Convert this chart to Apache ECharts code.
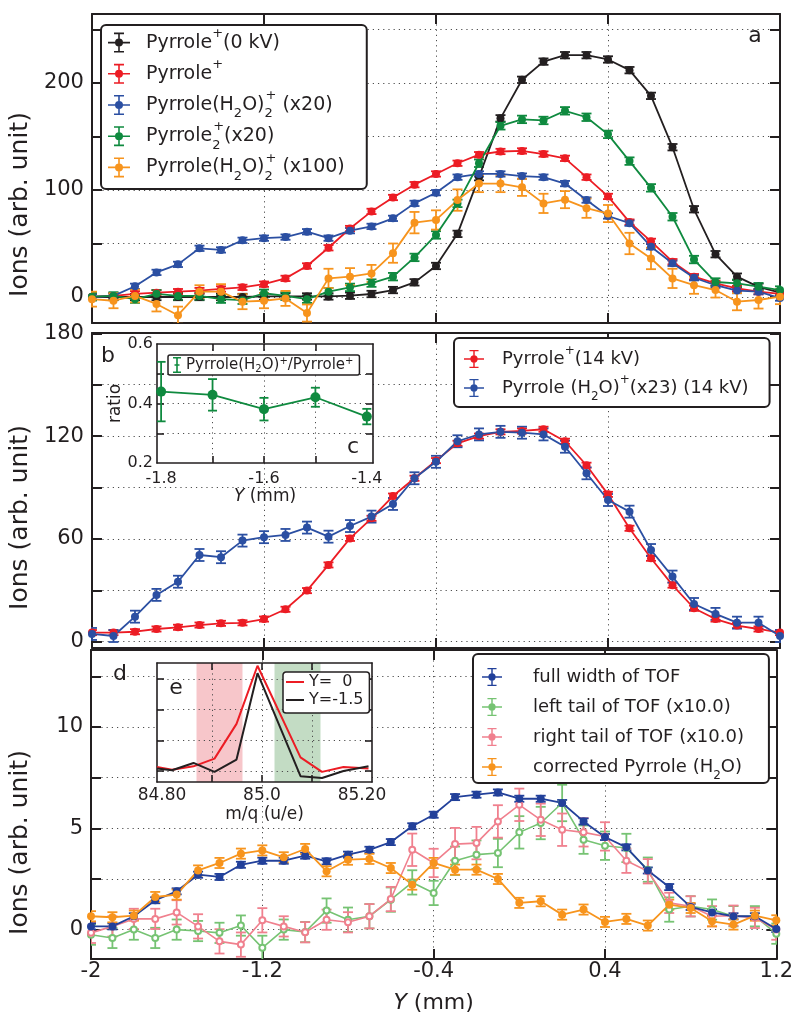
<!DOCTYPE html>
<html><head><meta charset="utf-8">
<script src="https://cdn.jsdelivr.net/npm/echarts@6/dist/echarts.min.js"></script>
<style>html,body{margin:0;padding:0;background:#fff}#c{width:796px;height:1029px}</style>
</head><body><div id="c"></div>
<script>
// ---------- data ----------
const Y_MM = [-2.0,-1.9,-1.8,-1.7,-1.6,-1.5,-1.4,-1.3,-1.2,-1.1,-1.0,-0.9,-0.8,-0.7,-0.6,-0.5,-0.4,-0.3,-0.2,-0.1,0.0,0.1,0.2,0.3,0.4,0.5,0.6,0.7,0.8,0.9,1.0,1.1,1.2];

// panel a
const A_PYR_0KV   = [0,0,0,0,0,0,0,0,0.5,0.5,0.5,0.5,1.2,2.8,6.5,13.7,29,59,112,167,203,220,226,226,222,212,188,140,82,40,19,9.5,4];
const A_PYR       = [0.3,1,3,4,5,6,7.5,9,12,17.4,29,46,64,80,93,105,115,125,133,136,136.5,133.6,129.6,112,94,70,52,33,19,12.8,8,5,3];
const A_PYRW2_X20 = [0,1,10,23,30.5,45.5,44,53,55,56,61,55,62,66,73.5,87.5,97.5,112,115,115,113,112,106,90.6,75.7,69,47,31.5,18,11,6,5,-1];
const A_PYR2_X20  = [0.3,1,-2,3,1,1,-2,-3,3.5,1,-2,5,9,13,19,37,58,87.5,125,160,166,165,174,168,152,127,102,75,35,14,12.8,9.6,6.5];
const A_PYRW2_X100= [-2,-3.5,1,-6.5,-17,5,5,-4.4,-3.5,-1.3,-15,17.4,19,22,41,69.5,72,90.6,106,106,102.5,87.5,91,83,78,50,36,17.4,11,6.5,-4.4,-2.8,0.3];
const A_ERR_0KV = 3, A_ERR_PYR = 2.5, A_ERR_PYRW2 = 2.5, A_ERR_PYR2 = 3.5;
const A_ERR_X100 = [7,7,6,7,8,6,7,7,7,7,8,9,8,8,9,10,9,10,8,8,8,9,8,9,8,10,10,9,8,7,8,8,7];

// panel b
const B_PYR_14KV  = [5.3,5.3,5.8,7.4,8.4,9.7,10.7,11,13.2,18.9,29.8,44.8,60.3,72,85,95.4,105.7,115.8,120,122.5,123,124,117,103,86,66.2,48.7,33,19.5,13.2,9.4,7.4,5.3];
const B_PYRW_X23  = [4.5,3.3,14.6,27.3,35,50.6,49.3,59,61,62.3,66.6,61.3,67.5,73,80.4,95.4,105,117,121,122.5,122,121,113.8,98.3,82.7,75.9,53.5,38,22,16.2,11.1,11.1,3.3];
const B_ERR_PYR = 1.5, B_ERR_PYRW = 3.5;

// inset c (ratio)
const C_Y     = [-1.8,-1.7,-1.6,-1.5,-1.4];
const C_RATIO = [0.44,0.429,0.381,0.421,0.356];
const C_ERR   = [0.10,0.053,0.038,0.032,0.026];

// panel d
const D_FULL   = [0.16,0.16,0.66,1.45,1.89,2.71,2.6,3.2,3.4,3.4,3.65,3.37,3.7,3.94,4.32,5.1,5.67,6.54,6.66,6.77,6.46,6.46,6.25,5.34,4.57,4.06,2.92,2.1,1.12,0.85,0.66,0.66,0.03];
const D_LEFT   = [-0.25,-0.41,0,-0.41,0,-0.07,-0.16,0.2,-0.9,0,-0.12,0.94,0.49,0.66,1.48,2.33,1.81,3.4,3.7,3.78,4.8,5.26,6.25,4.44,4.14,4.03,2.96,0.99,1.15,0.99,0.66,0.66,-0.2];
const D_RIGHT  = [-0.16,0.16,0.53,0.53,0.85,0.16,-0.58,-0.74,0.46,0.16,-0.13,0.49,0.36,0.66,1.51,3.94,3.29,4.22,4.27,5.34,6.16,5.42,4.93,4.8,4.6,3.4,2.88,1.32,1.15,0.66,0.69,0.58,0];
const D_CORR   = [0.66,0.61,0.69,1.61,1.73,2.92,3.29,3.75,3.91,3.57,3.98,2.88,3.45,3.49,3.04,2.22,3.29,2.96,2.96,2.5,1.32,1.4,0.74,0.99,0.38,0.53,0.2,1.23,1.07,0.41,0.25,0.69,0.46];
const D_ERR_FULL = 0.15, D_ERR_CORR = 0.25;
const D_ERR_LEFT  = [0.5,0.5,0.5,0.5,0.5,0.5,0.5,0.5,0.6,0.5,0.5,0.6,0.6,0.6,0.6,0.6,0.6,0.7,0.7,0.7,0.8,0.8,0.9,0.7,0.7,0.7,0.6,0.6,0.5,0.5,0.5,0.5,0.5];
const D_ERR_RIGHT = [0.5,0.5,0.5,0.5,0.6,0.6,0.6,0.6,0.6,0.5,0.5,0.5,0.5,0.6,0.6,0.8,0.7,0.8,0.8,0.8,0.8,0.8,0.8,0.7,0.7,0.6,0.6,0.5,0.5,0.5,0.5,0.5,0.5];

// inset e (TOF spectra)
const E_MQ     = [84.79,84.82,84.863,84.905,84.949,84.991,85.077,85.12,85.163,85.213];
const E_Y0     = [0.14,0.05,0.16,0.41,1.54,3.43,0.45,-0.02,0.14,0.09];
const E_Y15    = [0.09,0.03,0.27,-0.02,0.38,3.19,-0.16,-0.22,0.01,0.16];
const E_LEFT_BAND  = [84.869, 84.961];
const E_RIGHT_BAND = [85.025, 85.117];

// ticks
const X_TICKS = [-2,-1.2,-0.4,0.4,1.2];
const X_TICK_LABELS = ['-2','-1.2','-0.4','0.4','1.2'];
const A_TICKS = [0,50,100,150,200,250], A_LABELS = [0,100,200];
const B_TICKS = [0,30,60,90,120,150,180], B_LABELS = [0,60,120,180];
const D_TICKS = [0,2.5,5,7.5,10,12.5], D_LABELS = [0,5,10];
const C_XTICKS = [-1.7,-1.6,-1.5], C_XLABELS = [-1.8,-1.6,-1.4];
const C_YTICKS = [0.3,0.4,0.5], C_YLABELS = [0.2,0.4,0.6];
const E_XTICKS = [84.9,85.0,85.1], E_XLABELS = [84.8,85.0,85.2], E_XLABEL_TEXT = ['84.80','85.0','85.20'];
const E_YTICKS = [0,1,2,3];

// ---------- style ----------
const FONT = 'DejaVu Sans';
const INK = '#231f20';
const GRIDLINE = {show:true, lineStyle:{color:'#4d4d4d', width:1, type:[1.2,4]}};
const COL = {black:'#231f20', red:'#ec1c24', blue:'#2b4fa2', green:'#0f8a3f', orange:'#f7941d',
             dblue:'#22409a', lgreen:'#76c373', pink:'#f0808e'};

function lookup(vals, texts){ return v => { for (let i=0;i<vals.length;i++) if (Math.abs(vals[i]-v)<1e-6) return texts[i]; return ''; }; }

function xAx(gi, min, max, ticks, pos, label, extra) {
  return Object.assign({
    type:'value', gridIndex:gi, min:min, max:max, position:pos,
    axisLine:{show:true, onZero:false, lineStyle:{color:INK, width:2}},
    axisTick:{show:true, inside:true, length:10, customValues:ticks, lineStyle:{color:INK, width:2}},
    axisLabel: label ? Object.assign({show:true, color:INK, fontFamily:FONT, showMinLabel:true, showMaxLabel:true}, label) : {show:false},
    splitLine: pos==='bottom' ? GRIDLINE : {show:false}
  }, extra||{});
}
function yAx(gi, min, max, ticks, pos, label, extra) {
  return Object.assign({
    type:'value', gridIndex:gi, min:min, max:max, position:pos,
    axisLine:{show:true, onZero:false, lineStyle:{color:INK, width:2}},
    axisTick:{show:true, inside:true, length:10, customValues:ticks, lineStyle:{color:INK, width:2}},
    axisLabel: label ? Object.assign({show:true, color:INK, fontFamily:FONT, showMinLabel:true, showMaxLabel:true}, label) : {show:false},
    splitLine: pos==='left' ? GRIDLINE : {show:false}
  }, extra||{});
}
const yName = (pad) => ({name:'Ions (arb. unit)', nameLocation:'middle', nameGap:58,
  nameTextStyle:{fontSize:25, fontFamily:FONT, color:INK, padding:[0,pad,0,0]}});

const insetTick = (t) => ({show:true, inside:true, length:7, customValues:t, lineStyle:{color:INK,width:1.6}});
const insetLine = {show:true, onZero:false, lineStyle:{color:INK,width:1.6}};

const xAxes = [
  xAx(0,-2,1.2,X_TICKS,'bottom',null),
  xAx(1,-2,1.2,X_TICKS,'bottom',null),
  xAx(2,-2,1.2,X_TICKS,'bottom',{customValues:X_TICKS, formatter:lookup(X_TICKS,X_TICK_LABELS), fontSize:21, margin:2},
      {name:'{i|Y} (mm)', nameLocation:'middle', nameGap:33,
       nameTextStyle:{fontSize:22, fontFamily:FONT, color:INK, rich:{i:{fontStyle:'italic', fontSize:22, fontFamily:FONT, color:INK}}}}),
  xAx(0,-2,1.2,X_TICKS,'top',null),
  xAx(1,-2,1.2,X_TICKS,'top',null),
  xAx(2,-2,1.2,X_TICKS,'top',null),
  // inset c
  xAx(3,-1.808,-1.388,C_XTICKS,'bottom',{customValues:C_XLABELS, fontSize:16, margin:8},
      {z:6, axisTick:insetTick(C_XTICKS), axisLine:insetLine,
       name:'{i|Y} (mm)', nameLocation:'middle', nameGap:20,
       nameTextStyle:{fontSize:17, fontFamily:FONT, color:INK, rich:{i:{fontStyle:'italic', fontSize:17, fontFamily:FONT, color:INK}}}}),
  xAx(3,-1.808,-1.388,C_XTICKS,'top',null,{z:6, axisTick:insetTick(C_XTICKS), axisLine:insetLine}),
  // inset e
  xAx(4,84.79,85.22,E_XTICKS,'bottom',{customValues:E_XLABELS, formatter:lookup(E_XLABELS,E_XLABEL_TEXT), fontSize:17, margin:5},
      {z:6, axisTick:insetTick(E_XTICKS), axisLine:insetLine,
       name:'m/q (u/e)', nameLocation:'middle', nameGap:24,
       nameTextStyle:{fontSize:17, fontFamily:FONT, color:INK}}),
  xAx(4,84.79,85.22,E_XTICKS,'top',null,{z:6, axisTick:insetTick(E_XTICKS), axisLine:insetLine})
];
const yAxes = [
  yAx(0,-24.3,264.5,A_TICKS,'left',{customValues:A_LABELS, fontSize:21, margin:8}, yName(72)),
  yAx(1,-3.7,180.2,B_TICKS,'left',{customValues:B_LABELS, fontSize:21, margin:8}, yName(54)),
  yAx(2,-1.45,13.8,D_TICKS,'left',{customValues:D_LABELS, fontSize:21, margin:8}, yName(76)),
  yAx(0,-24.3,264.5,A_TICKS,'right',null),
  yAx(1,-3.7,180.2,B_TICKS,'right',null),
  yAx(2,-1.45,13.8,D_TICKS,'right',null),
  yAx(3,0.2,0.6,C_YTICKS,'left',{customValues:C_YLABELS, formatter:v=>v.toFixed(1), fontSize:16, margin:4},
      {z:6, axisTick:insetTick(C_YTICKS), axisLine:insetLine,
       name:'ratio', nameLocation:'middle', nameGap:30, nameTextStyle:{fontSize:17, fontFamily:FONT, color:INK}}),
  yAx(3,0.2,0.6,C_YTICKS,'right',null,{z:6, axisTick:insetTick(C_YTICKS), axisLine:insetLine}),
  yAx(4,-0.35,3.52,E_YTICKS,'left',null,{z:6, axisTick:insetTick(E_YTICKS), axisLine:insetLine, splitLine:GRIDLINE}),
  yAx(4,-0.35,3.52,E_YTICKS,'right',null,{z:6, axisTick:insetTick(E_YTICKS), axisLine:insetLine})
];

// ---------- series helpers ----------
const series = [];
function addSeries(name, xi, yi, xs, ys, errs, color, o) {
  o = o || {};
  const e = xs.map((x,i)=>[x, ys[i], Array.isArray(errs)?errs[i]:errs]);
  const cap = o.cap || 10, lw = o.elw || 1.8;
  series.push({
    type:'custom', name:'err '+name, xAxisIndex:xi, yAxisIndex:yi, silent:true, clip:true, z:o.z||2,
    encode:{x:0, y:1}, data:e,
    renderItem:(params, api) => {
      const x = api.value(0), y = api.value(1), d = api.value(2);
      const t = api.coord([x, y+d]), b = api.coord([x, y-d]), h = cap/2;
      const st = {stroke:color, lineWidth:lw};
      return {type:'group', children:[
        {type:'line', shape:{x1:t[0],y1:t[1],x2:b[0],y2:b[1]}, style:st},
        {type:'line', shape:{x1:t[0]-h,y1:t[1],x2:t[0]+h,y2:t[1]}, style:st},
        {type:'line', shape:{x1:b[0]-h,y1:b[1],x2:b[0]+h,y2:b[1]}, style:st}
      ]};
    }
  });
  series.push({
    type:'line', name:name, xAxisIndex:xi, yAxisIndex:yi, z:o.z||2, clip:true,
    data: xs.map((x,i)=>[x, ys[i]]),
    symbol: o.symbol || 'circle', symbolSize: o.size || 8, showSymbol:true,
    lineStyle:{color:color, width:o.lw||1.8}, itemStyle:{color:color, borderWidth:0}
  });
}

// panel a
addSeries('Pyrrole+ (0 kV)', 0,0, Y_MM, A_PYR_0KV, A_ERR_0KV, COL.black);
addSeries('Pyrrole+', 0,0, Y_MM, A_PYR, A_ERR_PYR, COL.red);
addSeries('Pyrrole(H2O)2+ (x20)', 0,0, Y_MM, A_PYRW2_X20, A_ERR_PYRW2, COL.blue);
addSeries('Pyrrole2+ (x20)', 0,0, Y_MM, A_PYR2_X20, A_ERR_PYR2, COL.green);
addSeries('Pyrrole(H2O)2+ (x100)', 0,0, Y_MM, A_PYRW2_X100, A_ERR_X100, COL.orange);
// panel b
addSeries('Pyrrole+ (14 kV)', 1,1, Y_MM, B_PYR_14KV, B_ERR_PYR, COL.red);
addSeries('Pyrrole(H2O)+ (x23) (14 kV)', 1,1, Y_MM, B_PYRW_X23, B_ERR_PYRW, COL.blue);
// inset c
addSeries('Pyrrole(H2O)+/Pyrrole+', 6,6, C_Y, C_RATIO, C_ERR, COL.green, {z:7, size:10, cap:9});
// panel d
addSeries('left tail of TOF (x10.0)', 2,2, Y_MM, D_LEFT, D_ERR_LEFT, COL.lgreen, {symbol:'emptyCircle', size:6, lw:1.6});
addSeries('right tail of TOF (x10.0)', 2,2, Y_MM, D_RIGHT, D_ERR_RIGHT, COL.pink, {symbol:'emptyCircle', size:6, lw:1.6});
addSeries('full width of TOF', 2,2, Y_MM, D_FULL, D_ERR_FULL, COL.dblue);
addSeries('corrected Pyrrole (H2O)', 2,2, Y_MM, D_CORR, D_ERR_CORR, COL.orange);
// inset e
series.push({type:'line', name:'Y=  0', xAxisIndex:8, yAxisIndex:8, z:7, symbol:'none', clip:true,
  data:E_MQ.map((x,i)=>[x,E_Y0[i]]), lineStyle:{color:COL.red, width:2}, itemStyle:{color:COL.red},
  markArea:{silent:true, z:5, itemStyle:{color:'rgba(235,120,128,0.42)'},
    data:[[{xAxis:E_LEFT_BAND[0]},{xAxis:E_LEFT_BAND[1]}],
          [{xAxis:E_RIGHT_BAND[0], itemStyle:{color:'rgba(112,172,114,0.42)'}},{xAxis:E_RIGHT_BAND[1]}]]}});
series.push({type:'line', name:'Y=-1.5', xAxisIndex:8, yAxisIndex:8, z:7, symbol:'none', clip:true,
  data:E_MQ.map((x,i)=>[x,E_Y15[i]]), lineStyle:{color:COL.black, width:2}, itemStyle:{color:COL.black}});

// ---------- legends ----------
const EB_ICON = 'path://M0,9.2H22V10.8H0Z M10.2,0.8H11.8V19.2H10.2Z M6,0H16V1.6H6Z M6,18.4H16V20H6Z M11,6A4,4 0 1,1 11,14A4,4 0 1,1 11,6Z';
const SMALL_EB = 'path://M3.2,1H4.8V15H3.2Z M0,0H8V1.6H0Z M0,14.4H8V16H0Z M1.5,7.2H6.5V8.8H1.5Z';
const LINE_ICON = 'path://M0,0H18V2H0Z';
// rich styles; the invisible "sp" strut fixes each legend row's height and the gap before the text
function rich(fs, lh, ss, sp) {
  return {
    n:{fontSize:fs, lineHeight:lh, fontFamily:FONT, color:INK},
    sup:{fontSize:ss, lineHeight:ss, verticalAlign:'top', fontFamily:FONT, color:INK},
    sub:{fontSize:ss, lineHeight:ss, verticalAlign:'bottom', fontFamily:FONT, color:INK},
    subs:{fontSize:ss, lineHeight:ss, verticalAlign:'bottom', fontFamily:FONT, color:INK, width:1},
    sp:{width:sp, height:lh, lineHeight:lh, fontSize:fs, backgroundColor:'rgba(255,255,255,0)'}
  };
}
const LABELS = {
  'Pyrrole+ (0 kV)':'{sp| }{n|Pyrrole}{sup|+}{n|(0 kV)}',
  'Pyrrole+':'{sp| }{n|Pyrrole}{sup|+}',
  'Pyrrole(H2O)2+ (x20)':'{sp| }{n|Pyrrole(H}{sub|2}{n|O)}{subs|2}{sup|+}{n| (x20)}',
  'Pyrrole2+ (x20)':'{sp| }{n|Pyrrole}{subs|2}{sup|+}{n|(x20)}',
  'Pyrrole(H2O)2+ (x100)':'{sp| }{n|Pyrrole(H}{sub|2}{n|O)}{subs|2}{sup|+}{n| (x100)}',
  'Pyrrole+ (14 kV)':'{sp| }{n|Pyrrole}{sup|+}{n|(14 kV)}',
  'Pyrrole(H2O)+ (x23) (14 kV)':'{sp| }{n|Pyrrole (H}{sub|2}{n|O)}{sup|+}{n|(x23) (14 kV)}',
  'Pyrrole(H2O)+/Pyrrole+':'{n|Pyrrole(H}{sub|2}{n|O)}{sup|+}{n|/Pyrrole}{sup|+}',
  'full width of TOF':'{sp| }{n|full width of TOF}',
  'left tail of TOF (x10.0)':'{sp| }{n|left tail of TOF (x10.0)}',
  'right tail of TOF (x10.0)':'{sp| }{n|right tail of TOF (x10.0)}',
  'corrected Pyrrole (H2O)':'{sp| }{n|corrected Pyrrole (H}{sub|2}{n|O)}',
  'Y=  0':'{n|Y=  0}',
  'Y=-1.5':'{n|Y=-1.5}'
};
const legendBase = {orient:'vertical', align:'left', selectedMode:false, backgroundColor:'#fff', symbolKeepAspect:true,
  borderColor:INK, borderWidth:2, borderRadius:5, itemStyle:{borderWidth:0}, formatter:n=>LABELS[n]};
const legends = [
  Object.assign({}, legendBase, {left:101, top:25, padding:[2,22,6,7], itemGap:0, itemWidth:22, itemHeight:31.2,
    textStyle:{fontSize:19, fontFamily:FONT, color:INK, rich:rich(19,31.2,13,11)},
    data:['Pyrrole+ (0 kV)','Pyrrole+','Pyrrole(H2O)2+ (x20)','Pyrrole2+ (x20)','Pyrrole(H2O)2+ (x100)'].map(n=>({name:n, icon:EB_ICON}))}),
  Object.assign({}, legendBase, {left:454, top:338, padding:[6.5,21,4.5,10], itemGap:0, itemWidth:20, itemHeight:29,
    textStyle:{fontSize:18, fontFamily:FONT, color:INK, rich:rich(18,29,12,13)},
    data:['Pyrrole+ (14 kV)','Pyrrole(H2O)+ (x23) (14 kV)'].map(n=>({name:n, icon:EB_ICON}))}),
  Object.assign({}, legendBase, {left:473, top:654, padding:[8,25,1,9], itemGap:0, itemWidth:20, itemHeight:30,
    textStyle:{fontSize:18, fontFamily:FONT, color:INK, rich:rich(18,30,12,26)},
    data:['full width of TOF','left tail of TOF (x10.0)','right tail of TOF (x10.0)','corrected Pyrrole (H2O)'].map(n=>({name:n, icon:EB_ICON}))}),
  Object.assign({}, legendBase, {left:168, top:355, padding:[1,6,1,5], itemGap:0, itemWidth:8, itemHeight:16, borderWidth:1.5, borderRadius:2, z:8,
    textStyle:{fontSize:15, fontFamily:FONT, color:INK, rich:rich(15,18,10,0)},
    data:[{name:'Pyrrole(H2O)+/Pyrrole+', icon:SMALL_EB}]}),
  Object.assign({}, legendBase, {left:283, top:672, padding:[2,6,5,3], itemGap:2, itemWidth:18, itemHeight:2, borderWidth:1.5, borderRadius:3, z:8,
    textStyle:{fontSize:16, fontFamily:FONT, color:INK, rich:rich(16,17,11,0)},
    data:[{name:'Y=  0', icon:LINE_ICON},{name:'Y=-1.5', icon:LINE_ICON}]})
];

const letter = (t,x,y) => ({type:'text', x:x, y:y, z:20, style:{text:t, fontSize:22, fontFamily:FONT, fill:INK, align:'center', verticalAlign:'middle'}});

const option = {
  animation:false,
  backgroundColor:'#fff',
  grid:[
    {left:90, top:14, width:690, height:309},
    {left:90, top:333, width:690, height:315},
    {left:90, top:650, width:690, height:309},
    {left:157, top:344, width:216, height:119, show:true, backgroundColor:'#fff', borderWidth:0, z:3},
    {left:157, top:663, width:215, height:119, show:true, backgroundColor:'#fff', borderWidth:0, z:3}
  ],
  xAxis:xAxes, yAxis:yAxes, legend:legends, series:series,
  graphic:[letter('a',755,36), letter('b',108,356), letter('c',353,447), letter('d',120,674), letter('e',176,688)]
};
const chart = echarts.init(document.getElementById('c'), null, {renderer:'canvas'});
chart.setOption(option);
</script></body></html>
